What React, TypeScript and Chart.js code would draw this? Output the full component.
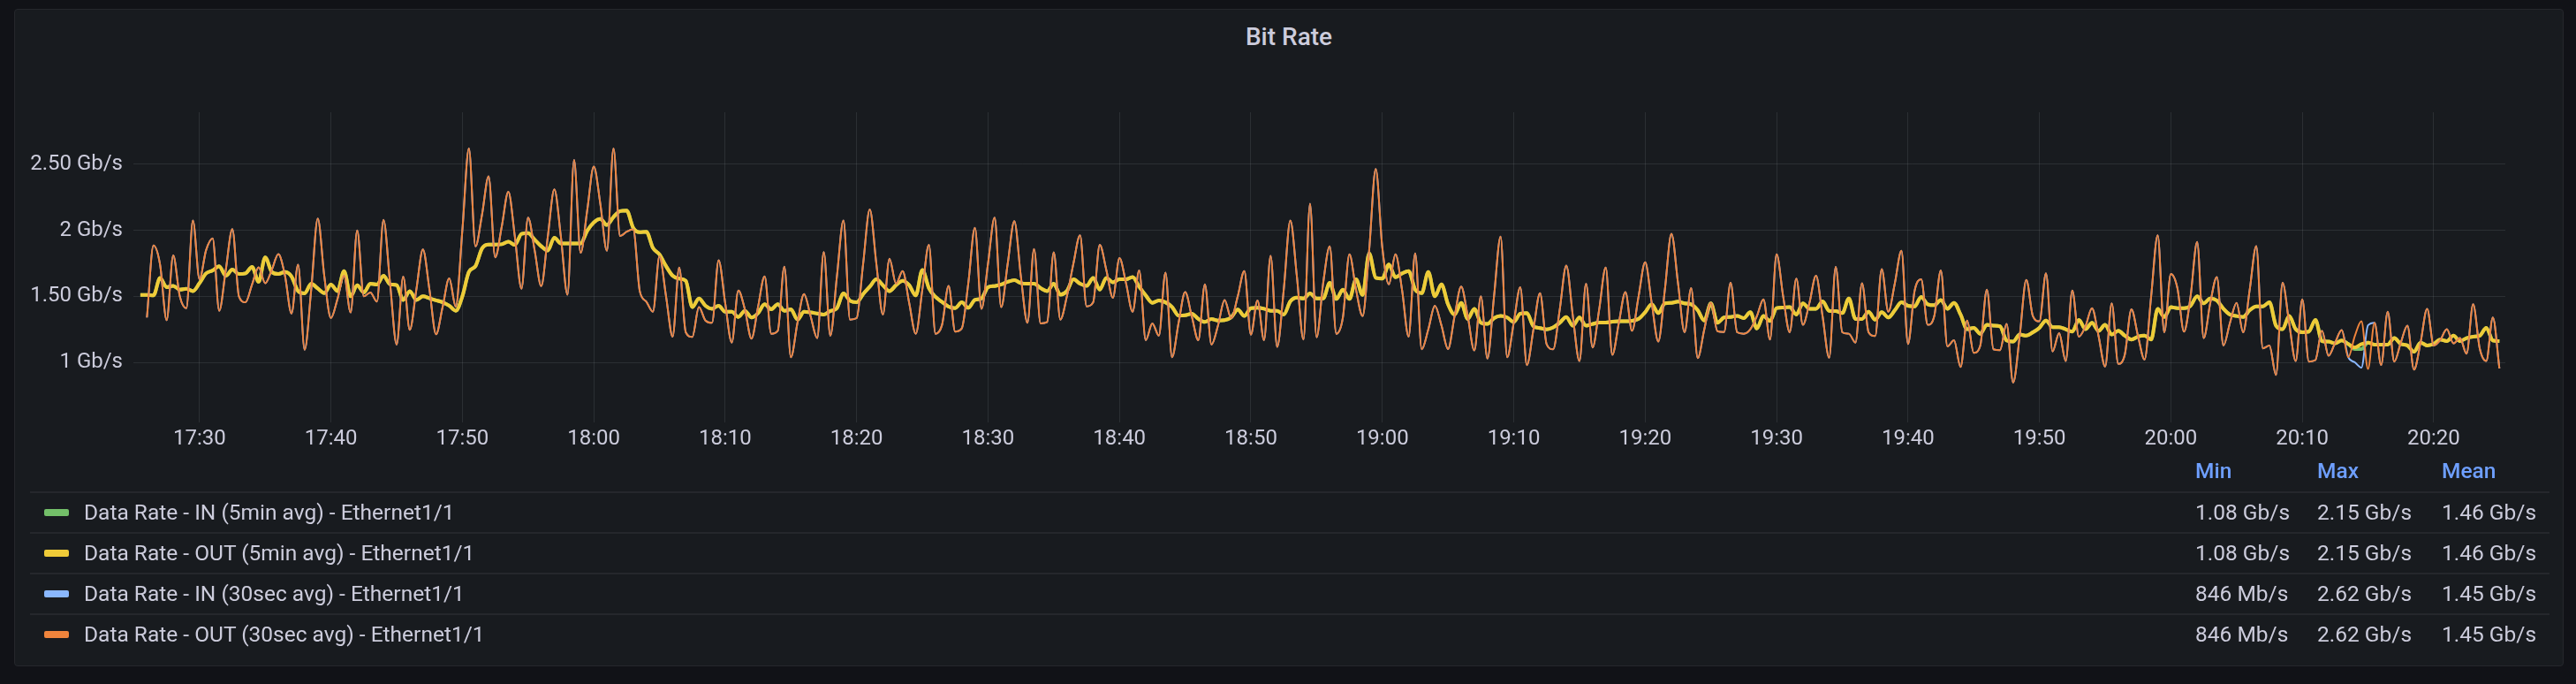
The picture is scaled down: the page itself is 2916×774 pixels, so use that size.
import React, { useEffect, useRef } from "react";
import { Chart, registerables } from "chart.js";

Chart.register(...registerables);

// ---------- texts ----------
const TITLE = "Bit Rate";

// x axis: minutes after 17:00
const xMin = 24.97;
const xMax = 205.45;
const xTickValues = [30, 40, 50, 60, 70, 80, 90, 100, 110, 120, 130, 140, 150, 160, 170, 180, 190, 200];
const xTickLabels = ["17:30", "17:40", "17:50", "18:00", "18:10", "18:20", "18:30", "18:40", "18:50", "19:00", "19:10", "19:20", "19:30", "19:40", "19:50", "20:00", "20:10", "20:20"];

// y axis: Gb/s
const yMin = 0.545;
const yMax = 2.895;
const yTickValues = [1, 1.5, 2, 2.5];
const yTickLabels = ["1 Gb/s", "1.50 Gb/s", "2 Gb/s", "2.50 Gb/s"];

// ---------- series (Gb/s, one sample every 30 s) ----------
const sampleStepMin = 0.5;

// OUT (30sec avg): first sample 17:26:00
const out30StartMin = 26.0;
const out30Part1 = [
  1.34, 1.885, 1.74, 1.32, 1.81, 1.5, 1.41, 2.075, 1.63, 1.85,
  1.94, 1.39, 1.7, 2.01, 1.5, 1.455, 1.59, 1.72, 1.6, 1.7,
  1.82, 1.66, 1.37, 1.74, 1.095, 1.55, 2.09, 1.65, 1.335, 1.48,
  1.656, 1.378, 2.0, 1.5, 1.53, 1.46, 2.08, 1.6, 1.135, 1.65,
  1.246, 1.55, 1.856, 1.55, 1.213, 1.42, 1.636, 1.422, 2.0, 2.62,
  1.879, 2.12, 2.41, 1.796, 2.03, 2.293, 1.95, 1.558, 2.097, 1.85,
  1.578, 1.95, 2.311, 1.95, 1.513, 2.533, 1.83, 2.15, 2.484, 2.2,
  1.845, 2.62, 1.957, 1.99, 2.008, 1.54, 1.46, 1.384, 1.803, 1.5,
  1.195, 1.718, 1.228, 1.193, 1.418, 1.317, 1.3, 1.774, 1.45, 1.15,
];
const out30Part2 = [
  1.545, 1.4, 1.18, 1.42, 1.651, 1.217, 1.239, 1.725, 1.039, 1.3,
  1.518, 1.35, 1.184, 1.836, 1.202, 1.65, 2.075, 1.324, 1.335, 1.75,
  2.159, 1.75, 1.362, 1.785, 1.596, 1.692, 1.45, 1.217, 1.55, 1.89,
  1.217, 1.284, 1.58, 1.233, 1.257, 1.6, 2.019, 1.406, 1.75, 2.097,
  1.418, 1.75, 2.07, 1.65, 1.3, 1.859, 1.295, 1.306, 1.834, 1.324,
  1.5, 1.75, 1.963, 1.424, 1.455, 1.89, 1.7, 1.489, 1.79, 1.6,
  1.384, 1.696, 1.168, 1.295, 1.202, 1.68, 1.039, 1.3, 1.533, 1.35,
  1.168, 1.591, 1.135, 1.28, 1.473, 1.335, 1.5, 1.692, 1.21, 1.469,
  1.168, 1.807, 1.117, 1.55, 2.075, 1.65, 1.173, 2.202, 1.19,
];
const out30Part3 = [
  1.6,
  1.879, 1.217, 1.34, 1.818, 1.55, 1.351, 1.85, 2.464, 1.87, 1.591,
  1.818, 1.55, 1.195, 1.825, 1.099, 1.25, 1.429, 1.28, 1.101, 1.35,
  1.574, 1.35, 1.09, 1.5, 1.028, 1.5, 1.952, 1.039, 1.3, 1.569,
  0.979, 1.25, 1.525, 1.139, 1.099, 1.4, 1.734, 1.35, 1.01, 1.596,
  1.112, 1.4, 1.718, 1.057, 1.3, 1.533, 1.239, 1.5, 1.758, 1.45,
  1.157, 1.55, 1.974, 1.6, 1.228, 1.562, 1.032, 1.25, 1.45, 1.236,
  1.229, 1.602, 1.228, 1.217, 1.25, 1.35, 1.478, 1.173, 1.818, 1.5,
  1.228, 1.634, 1.284, 1.45, 1.656, 1.35, 1.035, 1.723, 1.228, 1.217,
  1.15, 1.6, 1.228, 1.199, 1.707, 1.384, 1.6, 1.845, 1.139,
];
const out30Part4 = [
  1.54,
  1.629, 1.284, 1.351, 1.696, 1.121, 1.168, 0.965, 1.317, 1.072, 1.128,
  1.551, 1.099, 1.093, 1.291, 0.846, 1.2, 1.625, 1.351, 1.311, 1.674,
  1.083, 1.222, 1.01, 1.545, 1.195, 1.273, 1.411, 1.2, 0.968, 1.447,
  0.988, 1.061, 1.402, 1.2, 1.021, 1.5, 1.963, 1.228, 1.669, 1.562,
  1.233, 1.5, 1.912, 1.184, 1.45, 1.647, 1.128, 1.3, 1.451, 1.228,
  1.55, 1.881, 1.106, 1.128, 0.905, 1.602, 1.3, 1.01, 1.478, 1.006,
  1.017, 1.239, 1.05, 1.15, 1.244, 1.039, 1.2, 1.311, 0.95, 1.3,
  0.98, 1.384, 1.006, 1.15, 1.278, 0.945, 1.15, 1.406, 1.128, 1.17,
  1.251, 1.144, 1.184, 1.066, 1.44, 1.106, 1.01, 1.34, 0.955,
];
// IN (30sec avg): equal to OUT except these samples [minute, value]
const in30Differences = [
  [194.0, 1.0],
  [194.5, 0.96],
  [195.0, 1.28],
];

// OUT (5min avg): first sample 17:25:30
const out5StartMin = 25.5;
const out5Part1 = [
  1.51,
  1.51, 1.507, 1.64, 1.569, 1.58, 1.551, 1.558, 1.54, 1.6, 1.674,
  1.696, 1.729, 1.656, 1.703, 1.669, 1.674, 1.723, 1.611, 1.796, 1.685,
  1.669, 1.685, 1.651, 1.54, 1.522, 1.596, 1.56, 1.525, 1.589, 1.54,
  1.692, 1.5, 1.585, 1.529, 1.596, 1.589, 1.656, 1.591, 1.585, 1.473,
  1.54, 1.473, 1.5, 1.485, 1.47, 1.455, 1.43, 1.391, 1.5, 1.685,
  1.729, 1.863, 1.892, 1.892, 1.895, 1.914, 1.89, 1.974, 1.979, 1.93,
  1.88, 1.847, 1.945, 1.901, 1.901, 1.901, 1.901, 1.997, 2.06, 2.086,
  2.041, 2.101, 2.146, 2.15, 2.019, 1.986, 1.99, 1.867, 1.818, 1.729,
  1.656, 1.634, 1.618, 1.418, 1.484, 1.429, 1.406, 1.429, 1.384, 1.384,
];
const out5Part2 = [
  1.344, 1.391, 1.34, 1.373, 1.44, 1.402, 1.44, 1.391, 1.402, 1.324,
  1.384, 1.378, 1.37, 1.362, 1.389, 1.411, 1.522, 1.467, 1.455, 1.518,
  1.573, 1.629, 1.585, 1.54, 1.585, 1.618, 1.585, 1.507, 1.7, 1.562,
  1.496, 1.458, 1.422, 1.411, 1.455, 1.413, 1.473, 1.484, 1.569, 1.578,
  1.59, 1.61, 1.623, 1.6, 1.596, 1.596, 1.562, 1.54, 1.596, 1.513,
  1.54, 1.629, 1.596, 1.58, 1.64, 1.551, 1.64, 1.607, 1.629, 1.629,
  1.647, 1.573, 1.507, 1.451, 1.469, 1.455, 1.42, 1.355, 1.357, 1.369,
  1.329, 1.306, 1.329, 1.317, 1.32, 1.34, 1.4, 1.351, 1.411, 1.413,
  1.406, 1.391, 1.391, 1.362, 1.462, 1.491, 1.484, 1.522, 1.484,
];
const out5Part3 = [
  1.484,
  1.602, 1.48, 1.551, 1.48, 1.629, 1.511, 1.825, 1.64, 1.634, 1.741,
  1.645, 1.674, 1.692, 1.551, 1.525, 1.685, 1.5, 1.591, 1.44, 1.362,
  1.451, 1.329, 1.406, 1.3, 1.291, 1.335, 1.351, 1.34, 1.306, 1.369,
  1.373, 1.273, 1.26, 1.25, 1.265, 1.3, 1.344, 1.278, 1.34, 1.278,
  1.291, 1.302, 1.302, 1.308, 1.311, 1.311, 1.315, 1.33, 1.38, 1.44,
  1.373, 1.447, 1.451, 1.46, 1.447, 1.44, 1.395, 1.317, 1.447, 1.3,
  1.34, 1.344, 1.351, 1.335, 1.38, 1.257, 1.351, 1.313, 1.411, 1.415,
  1.418, 1.362, 1.447, 1.406, 1.406, 1.462, 1.391, 1.389, 1.373, 1.484,
  1.329, 1.329, 1.384, 1.324, 1.38, 1.34, 1.395, 1.455, 1.429,
];
const out5Part4 = [
  1.424,
  1.496, 1.44, 1.433, 1.473, 1.406, 1.451, 1.362, 1.251, 1.262, 1.217,
  1.284, 1.278, 1.273, 1.166, 1.157, 1.211, 1.202, 1.228, 1.262, 1.317,
  1.267, 1.267, 1.251, 1.233, 1.322, 1.251, 1.3, 1.239, 1.284, 1.211,
  1.239, 1.202, 1.173, 1.195, 1.202, 1.173, 1.406, 1.344, 1.418, 1.411,
  1.411, 1.429, 1.5, 1.447, 1.484, 1.469, 1.406, 1.362, 1.351, 1.344,
  1.395, 1.424, 1.424, 1.455, 1.278, 1.251, 1.351, 1.251, 1.228, 1.233,
  1.322, 1.161, 1.157, 1.144, 1.166, 1.139, 1.112, 1.139, 1.15, 1.135,
  1.135, 1.135, 1.184, 1.139, 1.128, 1.08, 1.15, 1.128, 1.139, 1.173,
  1.161, 1.202, 1.161, 1.184, 1.195, 1.202, 1.262, 1.166, 1.161,
];
// IN (5min avg): equal to OUT except these samples [minute, value]
const in5Differences = [
  [194.0, 1.1],
  [194.5, 1.1],
];

// ---------- legend ----------
const legendNames = [
  "Data Rate - IN (5min avg) - Ethernet1/1",
  "Data Rate - OUT (5min avg) - Ethernet1/1",
  "Data Rate - IN (30sec avg) - Ethernet1/1",
  "Data Rate - OUT (30sec avg) - Ethernet1/1",
];
const legendColors = ["#73BF69", "#EFCB38", "#8AB8FF", "#EF843C"];
const legendHeaders = ["Min", "Max", "Mean"];
const legendMin = ["1.08 Gb/s", "1.08 Gb/s", "846 Mb/s", "846 Mb/s"];
const legendMax = ["2.15 Gb/s", "2.15 Gb/s", "2.62 Gb/s", "2.62 Gb/s"];
const legendMean = ["1.46 Gb/s", "1.46 Gb/s", "1.45 Gb/s", "1.45 Gb/s"];

// ---------- helpers ----------
type Pt = { x: number; y: number };
function toPoints(start: number, values: number[]): Pt[] {
  return values.map((v, i) => ({ x: start + i * sampleStepMin, y: v }));
}
function withDifferences(base: Pt[], diffs: number[][]): Pt[] {
  return base.map((p) => {
    const d = diffs.find((e) => Math.abs(e[0] - p.x) < 1e-6);
    return d ? { x: p.x, y: d[1] } : p;
  });
}

const TEXT = "#ccccdc";
const GRID = "rgba(240,250,255,0.09)";
const FONT = "Roboto";

export default function App() {
  const ref = useRef<HTMLCanvasElement | null>(null);

  useEffect(() => {
    if (!ref.current) return;
    const out30 = toPoints(out30StartMin, [...out30Part1, ...out30Part2, ...out30Part3, ...out30Part4]);
    const out5 = toPoints(out5StartMin, [...out5Part1, ...out5Part2, ...out5Part3, ...out5Part4]);
    const in30 = withDifferences(out30, in30Differences);
    const in5 = withDifferences(out5, in5Differences);
    const widths = [4, 4, 2, 2];
    const seriesData = [in5, out5, in30, out30];

    const chart = new Chart(ref.current, {
      type: "line",
      data: {
        datasets: seriesData.map((d, i) => ({
          label: legendNames[i],
          data: d,
          borderColor: legendColors[i],
          backgroundColor: legendColors[i],
          borderWidth: widths[i],
          pointRadius: 0,
          fill: false,
          cubicInterpolationMode: "monotone" as const,
          order: 4 - i,
        })),
      },
      options: {
        animation: false,
        responsive: false,
        devicePixelRatio: 1,
        layout: { padding: { left: 0, top: 127, right: 80, bottom: 256 } },
        plugins: { legend: { display: false }, tooltip: { enabled: false }, title: { display: false } },
        scales: {
          x: {
            type: "linear",
            min: xMin,
            max: xMax,
            afterFit: (s: any) => {
              s.height = 40;
            },
            afterBuildTicks: (s: any) => {
              s.ticks = xTickValues.map((v) => ({ value: v }));
            },
            grid: { color: GRID, lineWidth: 1, drawTicks: false },
            border: { display: false },
            ticks: {
              color: TEXT,
              font: { family: FONT, size: 24 },
              padding: 5,
              maxRotation: 0,
              autoSkip: false,
              callback: (v: any) => xTickLabels[xTickValues.indexOf(Number(v))] ?? "",
            },
          },
          y: {
            type: "linear",
            min: yMin,
            max: yMax,
            afterFit: (s: any) => {
              s.width = 151;
            },
            afterBuildTicks: (s: any) => {
              s.ticks = yTickValues.map((v) => ({ value: v }));
            },
            grid: { color: GRID, lineWidth: 1, drawTicks: false },
            border: { display: false },
            ticks: {
              color: TEXT,
              font: { family: FONT, size: 24 },
              padding: 12,
              autoSkip: false,
              callback: (v: any) => yTickLabels[yTickValues.indexOf(Number(v))] ?? "",
            },
          },
        },
      },
    });
    return () => chart.destroy();
  }, []);

  const rowCenters = [580, 626, 672, 718];
  const sepTops = [556, 602, 648, 694];
  const colX = [2485, 2623, 2764];
  const cell = (top: number, left: number, text: string, extra: React.CSSProperties = {}) => (
    <div
      style={{
        position: "absolute",
        left,
        top: top - 15,
        height: 30,
        lineHeight: "30px",
        fontSize: 24.5,
        color: TEXT,
        whiteSpace: "nowrap",
        ...extra,
      }}
    >
      {text}
    </div>
  );

  return (
    <div
      style={{
        position: "fixed",
        left: 0,
        top: 0,
        width: 2916,
        height: 774,
        background: "#111217",
        overflow: "hidden",
        fontFamily: "Roboto, sans-serif",
      }}
    >
      <div
        style={{
          position: "absolute",
          left: 16,
          top: 10,
          width: 2884,
          height: 742,
          background: "#181b1f",
          border: "1px solid #25272c",
          borderRadius: 4,
        }}
      />
      <div
        style={{
          position: "absolute",
          left: 16,
          top: 25,
          width: 2886,
          textAlign: "center",
          fontSize: 28,
          fontWeight: 500,
          lineHeight: "34px",
          color: TEXT,
        }}
      >
        {TITLE}
      </div>
      <canvas
        ref={ref}
        width={2916}
        height={774}
        style={{ position: "absolute", left: 0, top: 0, width: 2916, height: 774 }}
      />
      {legendHeaders.map((h, j) => (
        <React.Fragment key={h}>{cell(533, colX[j], h, { color: "#6E9FFF", fontWeight: 500 })}</React.Fragment>
      ))}
      {sepTops.map((t) => (
        <div key={t} style={{ position: "absolute", left: 34, top: t, width: 2852, height: 2, background: "#25272c" }} />
      ))}
      {legendNames.map((name, i) => (
        <React.Fragment key={name}>
          <div
            style={{
              position: "absolute",
              left: 50,
              top: rowCenters[i] - 4,
              width: 28,
              height: 8,
              borderRadius: 2,
              background: legendColors[i],
            }}
          />
          {cell(rowCenters[i], 95, name)}
          {cell(rowCenters[i], colX[0], legendMin[i])}
          {cell(rowCenters[i], colX[1], legendMax[i])}
          {cell(rowCenters[i], colX[2], legendMean[i])}
        </React.Fragment>
      ))}
    </div>
  );
}
